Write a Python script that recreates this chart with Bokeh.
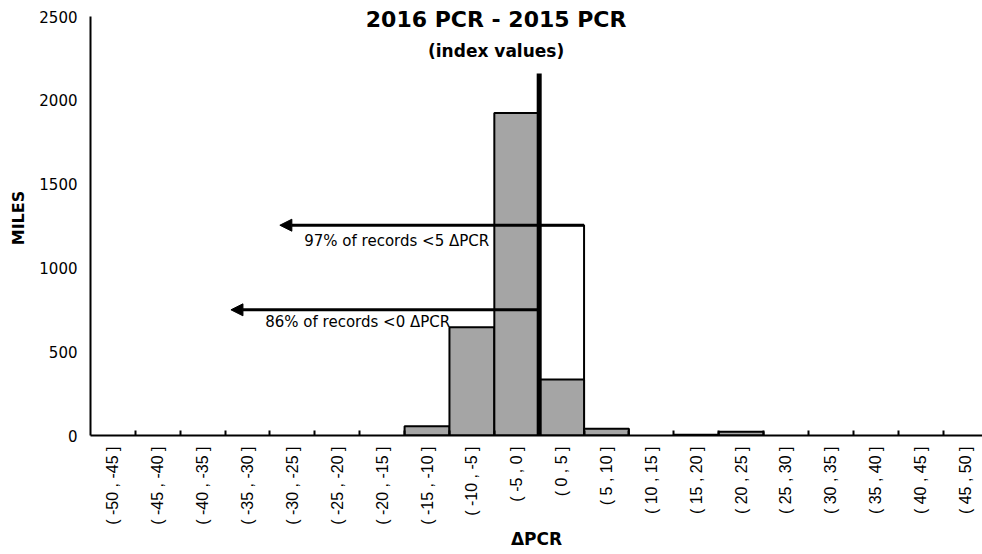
import math
from bokeh.plotting import figure
from bokeh.models import Range1d, FixedTicker, Label, Arrow, NormalHead
from bokeh.embed import file_html
from bokeh.resources import INLINE

# ---- data ----
bin_labels = ["( -50 , -45 ]", "( -45 , -40 ]", "( -40 , -35 ]", "( -35 , -30 ]",
              "( -30 , -25 ]", "( -25 , -20 ]", "( -20 , -15 ]", "( -15 , -10 ]",
              "( -10 , -5 ]", "( -5 , 0 ]", "( 0 , 5 ]", "( 5 , 10 ]",
              "( 10 , 15 ]", "( 15 , 20 ]", "( 20 , 25 ]", "( 25 , 30 ]",
              "( 30 , 35 ]", "( 35 , 40 ]", "( 40 , 45 ]", "( 45 , 50 ]"]
miles = [0, 0, 0, 0, 0, 0, 0, 55, 646, 1925, 334, 40, 0, 5, 22, 0, 0, 0, 0, 0]
y_ticks = [0, 500, 1000, 1500, 2000, 2500]
zero_marker_top = 2160          # height of the thick line at dPCR = 0
cum_box_top = 1255              # outline box over (0,5]
arrow_levels = [1255, 750]
arrow_texts = ["97% of records <5 \u0394PCR", "86% of records <0 \u0394PCR"]

FONT = "DejaVu Sans"
TICKFONT = "Liberation Sans"
idx = list(range(len(bin_labels)))
boundaries = [i + 0.5 for i in idx[:-1]]

# frame runs to the top of the canvas so the title is not clipped;
# the y axis line itself is bounded to 0..2500
p = figure(width=982, height=554, output_backend="svg", toolbar_location=None,
           x_range=Range1d(-0.5, 19.38), y_range=Range1d(0, 2596),
           min_border_left=90, min_border_right=0, min_border_top=0,
           min_border_bottom=119)
p.outline_line_color = None
p.xgrid.visible = False
p.ygrid.visible = False
p.background_fill_color = "white"
p.border_fill_color = "white"

# cumulative outline box over (0,5]
zero_pos = idx[bin_labels.index("( -5 , 0 ]")] + 0.5
box_right = idx[bin_labels.index("( 0 , 5 ]")] + 0.5
p.quad(left=[zero_pos], right=[box_right], bottom=[0], top=[cum_box_top],
       fill_color="white", line_color="black", line_width=2)

# histogram bars (non-zero only)
bx = [i for i, v in zip(idx, miles) if v > 0]
bv = [v for v in miles if v > 0]
p.vbar(x=bx, width=1.0, top=bv, bottom=0, fill_color="#a5a5a5",
       line_color="black", line_width=2)

# thick zero line
p.segment(x0=[zero_pos], y0=[0], x1=[zero_pos], y1=[zero_marker_top],
          line_color="black", line_width=5)

# arrows
arrow_starts = [box_right, zero_pos]
arrow_ends = [3.72, 2.63]
for xs, xe, lv in zip(arrow_starts, arrow_ends, arrow_levels):
    p.add_layout(Arrow(end=NormalHead(size=12, fill_color="black", line_color="black", line_width=1),
                       x_start=xs, y_start=lv, x_end=xe, y_end=lv,
                       line_color="black", line_width=3))

# annotation texts
text_x = [8.385, 7.516]
text_y = [1160, 677]
for tx, ty, t in zip(text_x, text_y, arrow_texts):
    p.add_layout(Label(x=tx, y=ty, text=t, text_align="right", text_baseline="alphabetic",
                       text_font=FONT, text_font_size="15px", text_color="black"))

# titles
p.add_layout(Label(x=8.54, y=2482, text="2016 PCR - 2015 PCR", text_align="center",
                   text_baseline="alphabetic", text_font=FONT, text_font_style="bold",
                   text_font_size="22px", text_color="black"))
p.add_layout(Label(x=8.54, y=2292, text="(index values)", text_align="center",
                   text_baseline="alphabetic", text_font=FONT, text_font_style="bold",
                   text_font_size="17px", text_color="black"))

# x axis
xa = p.xaxis[0]
xa.ticker = FixedTicker(ticks=idx, minor_ticks=boundaries)
xa.major_label_overrides = {i: lab for i, lab in zip(idx, bin_labels)}
xa.major_label_orientation = math.pi / 2
xa.major_tick_in = 0
xa.major_tick_out = 0
xa.minor_tick_in = 5
xa.minor_tick_out = 0
xa.minor_tick_line_color = "black"
xa.minor_tick_line_width = 2
xa.axis_line_color = "black"
xa.axis_line_width = 2
xa.major_label_standoff = 11
xa.major_label_text_font = TICKFONT
xa.major_label_text_font_size = "16px"
xa.major_label_text_color = "black"
xa.axis_label = "\u0394PCR"
xa.axis_label_text_font = FONT
xa.axis_label_text_font_style = "bold"
xa.axis_label_text_font_size = "17px"
xa.axis_label_text_color = "black"
xa.axis_label_standoff = 1

# y axis
ya = p.yaxis[0]
ya.ticker = FixedTicker(ticks=y_ticks)
ya.bounds = (y_ticks[0], y_ticks[-1])
ya.major_tick_in = 0
ya.major_tick_out = 0
ya.minor_tick_line_color = None
ya.axis_line_color = "black"
ya.axis_line_width = 2
ya.major_label_standoff = 13
ya.major_label_text_font = FONT
ya.major_label_text_font_size = "15px"
ya.major_label_text_color = "black"
ya.axis_label = "MILES"
ya.axis_label_text_font = FONT
ya.axis_label_text_font_style = "bold"
ya.axis_label_text_font_size = "16px"
ya.axis_label_text_color = "black"
ya.axis_label_standoff = 8

open("out.html", "w").write(file_html(p, INLINE))
